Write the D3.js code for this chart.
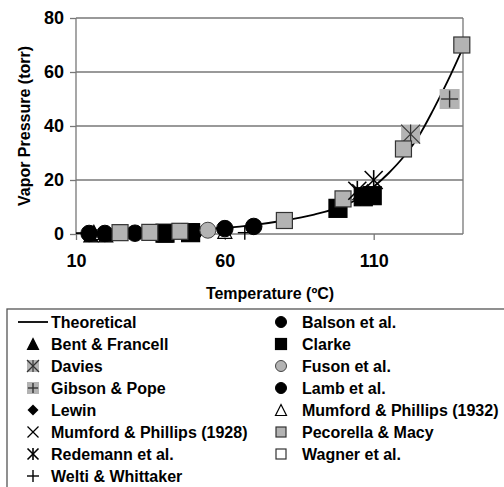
<!DOCTYPE html>
<html>
<head>
<meta charset="utf-8">
<script src="https://cdnjs.cloudflare.com/ajax/libs/d3/7.8.5/d3.min.js"></script>
<style>
body { margin: 0; background: #fff; }
svg { display: block; }
</style>
</head>
<body>
<svg id="chart" width="504" height="487"></svg>
<script>
var svg = d3.select("#chart");

// theoretical curve
var theoT = [10, 20, 30, 40, 50, 60, 70, 80, 90, 100, 105, 110, 115, 120, 125, 130, 135, 140];
var theoP = [0.3, 0.5, 0.8, 1.2, 1.7, 2.3, 3.4, 5.0, 7.2, 10.5, 13.2, 17.5, 22.5, 28.5, 36, 46, 57, 69];

var xTicks = [10, 60, 110];
var yTicks = [0, 20, 40, 60, 80];

// measured series
var balsonT = [14.4, 19.7, 29.8, 49.6];
var balsonP = [0.2, 0.2, 0.3, 0.8];
var bentT = [15, 20, 40];
var bentP = [-0.3, -0.3, -0.3];
var clarkeT = [39.9, 48.5, 98, 106.5, 109.5];
var clarkeP = [0.3, 0.5, 9.5, 13.8, 14.2];
var daviesT = [122.4];
var daviesP = [37];
var fusonT = [54.3];
var fusonP = [1.4];
var gibsonT = [135.5];
var gibsonP = [50];
var lambT = [60, 69.7];
var lambP = [2, 2.8];
var lewinT = [105.5];
var lewinP = [13];
var mp1932T = [16, 60];
var mp1932P = [0.6, 1.0];
var mp1928T = [105.5];
var mp1928P = [15.5];
var pecorellaT = [24.8, 34.8, 44.9, 80, 99.7, 120, 139.6];
var pecorellaP = [0.5, 0.6, 1.0, 5.0, 13, 31.5, 70];
var redemannT = [104.5, 110];
var redemannP = [16, 20];
var wagnerT = [39.9];
var wagnerP = [0.2];
var weltiT = [66.7];
var weltiP = [0.5];

// legend order; z = drawing order on the plot
var series = [
  {name: "Balson et al.", t: balsonT, p: balsonP, m: "circle", col: 1, row: 0, z: 3},
  {name: "Bent & Francell", t: bentT, p: bentP, m: "triangle", col: 0, row: 1, z: 0},
  {name: "Clarke", t: clarkeT, p: clarkeP, m: "blacksquare", col: 1, row: 1, z: 4},
  {name: "Davies", t: daviesT, p: daviesP, m: "davies", col: 0, row: 2, z: 5},
  {name: "Fuson et al.", t: fusonT, p: fusonP, m: "graycircle", col: 1, row: 2, z: 6},
  {name: "Gibson & Pope", t: gibsonT, p: gibsonP, m: "gibson", col: 0, row: 3, z: 7},
  {name: "Lamb et al.", t: lambT, p: lambP, m: "circle", col: 1, row: 3, z: 8},
  {name: "Lewin", t: lewinT, p: lewinP, m: "diamond", col: 0, row: 4, z: 9},
  {name: "Mumford & Phillips (1932)", t: mp1932T, p: mp1932P, m: "whitetriangle", col: 1, row: 4, z: 1},
  {name: "Mumford & Phillips (1928)", t: mp1928T, p: mp1928P, m: "x", col: 0, row: 5, z: 10},
  {name: "Pecorella & Macy", t: pecorellaT, p: pecorellaP, m: "graysquare", col: 1, row: 5, z: 11},
  {name: "Redemann et al.", t: redemannT, p: redemannP, m: "asterisk", col: 0, row: 6, z: 12},
  {name: "Wagner et al.", t: wagnerT, p: wagnerP, m: "whitesquare", col: 1, row: 6, z: 2},
  {name: "Welti & Whittaker", t: weltiT, p: weltiP, m: "plus", col: 0, row: 7, z: 13}
];

var plotL = 76, plotR = 463, plotT = 18, plotB = 234;
var x = d3.scaleLinear().domain([10, 140]).range([plotL, plotR]);
var y = d3.scaleLinear().domain([0, 80]).range([plotB, plotT]);

var font = "'Liberation Sans', Arial, sans-serif";

// grid
svg.append("g").selectAll("line").data(yTicks.slice(1)).join("line")
  .attr("x1", plotL).attr("x2", plotR)
  .attr("y1", d => y(d)).attr("y2", d => y(d))
  .attr("stroke", "#777").attr("stroke-width", 1.3);
svg.append("line").attr("x1", plotR).attr("x2", plotR).attr("y1", plotT).attr("y2", plotB)
  .attr("stroke", "#777").attr("stroke-width", 1.3);

// axes
var yAxis = svg.append("g").attr("transform", "translate(" + plotL + ",0)")
  .call(d3.axisLeft(y).tickValues(yTicks).tickSize(6).tickPadding(6));
var xAxis = svg.append("g").attr("transform", "translate(0," + plotB + ")")
  .call(d3.axisBottom(x).tickValues(xTicks).tickSize(6).tickPadding(14));
[xAxis, yAxis].forEach(function (a) {
  a.select(".domain").attr("stroke", "#777").attr("stroke-width", 1.3);
  a.selectAll(".tick line").attr("stroke", "#777").attr("stroke-width", 1.3);
  a.selectAll(".tick text").attr("font-family", font).attr("font-size", 18)
    .attr("font-weight", "bold").attr("fill", "#000");
});
xAxis.select(".domain").attr("d", "M" + plotL + ",0H" + plotR);
yAxis.select(".domain").attr("d", "M0," + plotT + "V" + plotB);

svg.append("text").attr("x", 270).attr("y", 299).attr("text-anchor", "middle")
  .attr("font-family", font).attr("font-size", 16).attr("font-weight", "bold")
  .text("Temperature (ºC)");
svg.append("text").attr("transform", "translate(30,126) rotate(-90)")
  .attr("text-anchor", "middle")
  .attr("font-family", font).attr("font-size", 16).attr("font-weight", "bold")
  .text("Vapor Pressure (torr)");

// marker drawing
function marker(g, type, s) {
  var h = s / 2;
  function line(x1, y1, x2, y2, c, w) {
    g.append("line").attr("x1", x1).attr("y1", y1).attr("x2", x2).attr("y2", y2)
      .attr("stroke", c).attr("stroke-width", w);
  }
  if (type == "circle" || type == "graycircle") {
    g.append("circle").attr("r", h)
      .attr("fill", type == "circle" ? "#000" : "#b3b3b3")
      .attr("stroke", type == "circle" ? "#000" : "#444").attr("stroke-width", 1);
  } else if (type == "blacksquare" || type == "graysquare" || type == "whitesquare") {
    g.append("rect").attr("x", -h).attr("y", -h).attr("width", s).attr("height", s)
      .attr("fill", type == "blacksquare" ? "#000" : type == "graysquare" ? "#b3b3b3" : "#fff")
      .attr("stroke", type == "blacksquare" ? "#000" : "#333").attr("stroke-width", 1.2);
  } else if (type == "triangle" || type == "whitetriangle") {
    g.append("path").attr("d", "M0," + (-h) + "L" + h + "," + h + "L" + (-h) + "," + h + "Z")
      .attr("fill", type == "triangle" ? "#000" : "#fff")
      .attr("stroke", "#000").attr("stroke-width", 1.2);
  } else if (type == "diamond") {
    g.append("path").attr("d", "M0," + (-h) + "L" + h + ",0L0," + h + "L" + (-h) + ",0Z")
      .attr("fill", "#000");
  } else if (type == "x" || type == "asterisk") {
    line(-h, -h, h, h, "#000", type == "x" ? 1.2 : 1.6);
    line(-h, h, h, -h, "#000", type == "x" ? 1.2 : 1.6);
    if (type == "asterisk") line(0, -h * 1.1, 0, h * 1.1, "#000", 1.6);
  } else if (type == "plus") {
    line(-h, 0, h, 0, "#000", 1.4);
    line(0, -h, 0, h, "#000", 1.4);
  } else if (type == "davies") {
    g.append("rect").attr("x", -h).attr("y", -h).attr("width", s).attr("height", s).attr("fill", "#b3b3b3");
    line(-h, -h, h, h, "#333", 1.2);
    line(-h, h, h, -h, "#333", 1.2);
    line(0, -h, 0, h, "#333", 1.2);
  } else if (type == "gibson") {
    g.append("rect").attr("x", -h).attr("y", -h).attr("width", s).attr("height", s).attr("fill", "#b3b3b3");
    line(-h * 0.85, 0, h * 0.85, 0, "#333", 1.4);
    line(0, -h * 0.85, 0, h * 0.85, "#333", 1.4);
  }
}

var plotSize = {circle: 16.5, graycircle: 16, blacksquare: 18, graysquare: 16, whitesquare: 16,
  triangle: 14, whitetriangle: 14, diamond: 14, x: 16, asterisk: 18, plus: 14, davies: 19, gibson: 20};
var legSize = {circle: 11, graycircle: 11, blacksquare: 11, graysquare: 10, whitesquare: 10,
  triangle: 11, whitetriangle: 11, diamond: 11, x: 11, asterisk: 11, plus: 12, davies: 12, gibson: 12};

// theoretical line
var theo = theoT.map((t, i) => [t, theoP[i]]);
svg.append("path").datum(theo)
  .attr("d", d3.line().x(d => x(d[0])).y(d => y(d[1])).curve(d3.curveMonotoneX))
  .attr("fill", "none").attr("stroke", "#000").attr("stroke-width", 1.8);

// points
series.slice().sort((a, b) => a.z - b.z).forEach(function (s) {
  s.t.forEach(function (t, i) {
    var g = svg.append("g").attr("transform", "translate(" + x(t) + "," + y(s.p[i]) + ")");
    marker(g, s.m, plotSize[s.m]);
  });
});

// legend
svg.append("rect").attr("x", 7).attr("y", 309).attr("width", 520).attr("height", 200)
  .attr("fill", "#fff").attr("stroke", "#555").attr("stroke-width", 1.3);
var rowY = d3.scaleLinear().domain([0, 7]).range([322, 476]);
var colSym = [33, 281], colText = [51, 302];
svg.append("line").attr("x1", 18).attr("x2", 48).attr("y1", rowY(0)).attr("y2", rowY(0))
  .attr("stroke", "#000").attr("stroke-width", 1.8);
svg.append("text").attr("x", colText[0]).attr("y", rowY(0)).attr("dy", "0.36em")
  .attr("font-family", font).attr("font-size", 16).attr("font-weight", "bold").text("Theoretical");
series.forEach(function (s) {
  var g = svg.append("g").attr("transform", "translate(" + colSym[s.col] + "," + rowY(s.row) + ")");
  marker(g, s.m, legSize[s.m]);
  svg.append("text").attr("x", colText[s.col]).attr("y", rowY(s.row)).attr("dy", "0.36em")
    .attr("font-family", font).attr("font-size", 16).attr("font-weight", "bold").text(s.name);
});
</script>
</body>
</html>
